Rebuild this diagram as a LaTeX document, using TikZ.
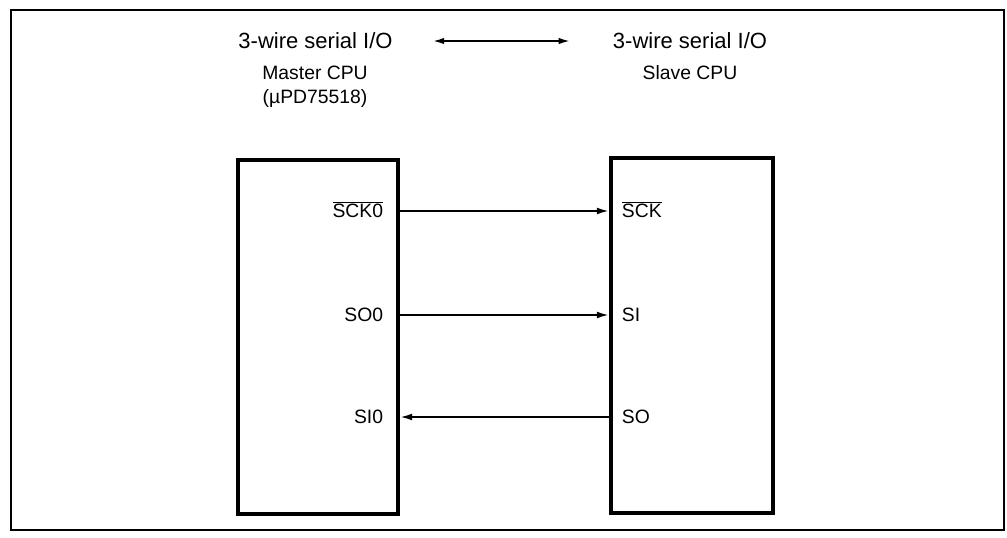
\documentclass[tikz,border=0pt]{standalone}
\usepackage{fontspec}
\setmainfont{Liberation Sans}
\usetikzlibrary{arrows.meta,positioning}

\begin{document}
\begin{tikzpicture}[
  x=0.75pt, y=-0.75pt,
  every node/.style={align=center, inner sep=2pt},
  hd/.style={font=\fontsize{16.5}{19}\selectfont},
  cpu/.style={font=\fontsize{14.5}{18}\selectfont, anchor=north},
  chip/.style={draw=black, line width=3pt, inner sep=0pt},
  pin/.style={font=\fontsize{14.5}{17}\selectfont, text height=10.4pt,
              text depth=0pt},
  sig/.style={-{Latex[length=3.2mm,width=1.8mm]}, draw=black, line width=1.4pt},
  both/.style={{Latex[length=3mm,width=1.7mm]}-{Latex[length=3mm,width=1.7mm]},
               draw=black, line width=1.4pt},
  frm/.style={draw=black, line width=2pt},
]
\useasboundingbox (0,0) rectangle (1007,537);
\draw[frm] (11,10) rectangle (1004,530);

% ---------- headings ----------
\node[hd] (io1) at (315.5,41) {3-wire serial I/O};
\node[hd] (io2) at (690,41) {3-wire serial I/O};
\draw[both, shorten <=28pt, shorten >=30pt] (io1.east) -- (io2.west);

\node[cpu] (mname) at (315,63) {Master CPU\\(µPD75518)};
\node[cpu] (sname) at (690,63) {Slave CPU};

% ---------- the two chips ----------
\node[chip, minimum width=120pt, minimum height=265.5pt] (master) at (318,337) {};
\node[chip, minimum width=121.5pt, minimum height=266.25pt] (slave) at (692,335.5) {};

\node[pin, anchor=east] (sck0) at (386,211) {$\overline{\mbox{SCK0}}$};
\node[pin, anchor=east] (so0) at (386,315) {SO0};
\node[pin, anchor=east] (si0) at (386,417) {SI0};

\node[pin, anchor=west] (sck) at (619,211) {$\overline{\mbox{SCK}}$};
\node[pin, anchor=west] (si) at (619,315) {SI};
\node[pin, anchor=west] (so) at (619,417) {SO};

% ---------- lines ----------
\draw[sig] (sck0 -| master.east) -- (sck -| slave.west);
\draw[sig] (so0 -| master.east) -- (si -| slave.west);
\draw[sig] (so -| slave.west) -- (si0 -| master.east);
\end{tikzpicture}
\end{document}
